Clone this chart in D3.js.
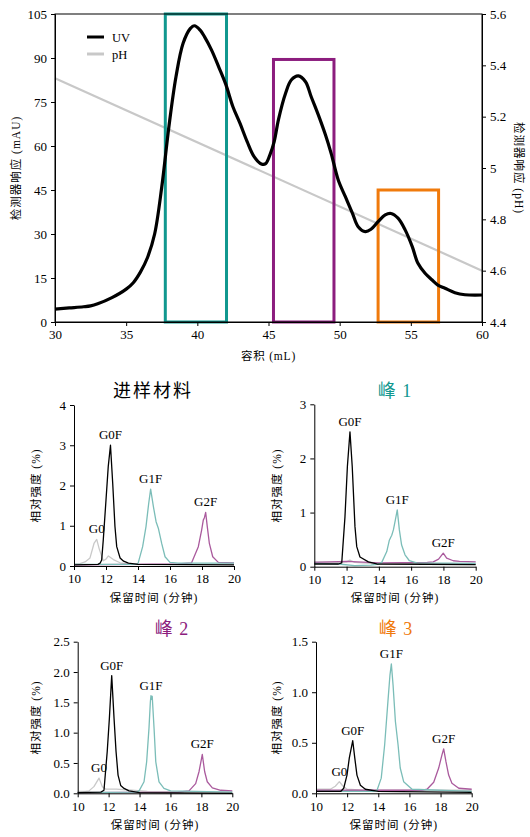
<!DOCTYPE html>
<html><head><meta charset="utf-8">
<script src="https://cdn.jsdelivr.net/npm/d3@7"></script>
<style>
body{margin:0;background:#fff;}
svg text{font-family:"Liberation Serif","Noto Sans CJK SC",serif;fill:#000;}
</style></head><body>
<svg id="c" width="530" height="837"></svg>
<script>
// ---------- DATA ----------
const uvVolume = [30,31,32,32.5,33,34,35,35.5,36,36.5,37,37.5,38,38.5,39,39.5,39.8,40.2,40.5,41,41.5,42,42.5,43,43.5,44,44.5,44.8,45.1,45.4,45.7,46.2,46.6,47.1,47.6,48,48.5,49,49.4,49.9,50.4,50.9,51.3,51.8,52.2,52.7,53.2,53.6,54.1,54.6,55.1,55.5,56,56.5,56.9,57.4,58.1,58.8,60];
const uvSignal = [4.4,4.8,5.2,5.5,6.2,8.3,11.2,13.4,17,22,30,46,66.5,83.6,95,100,101,99.5,97.3,92.7,87,81,73.4,67.7,61.5,56.3,53.9,54,57,61.5,69,78,82.5,83.9,81.9,76.8,70.6,63.8,57.5,48.4,42.7,37,32.5,30.8,31.6,34.2,36.5,37,35.4,31.4,25.7,20,16.6,14.3,12.6,11.5,10,9.3,9.2];
const phVolume = [30,60];
const phValues = [5.35,4.6];
const volumeTicks = [30,35,40,45,50,55,60];
const uvTicks = [0,15,30,45,60,75,90,105];
const phTicks = [4.4,4.6,4.8,5.0,5.2,5.4,5.6];
const fractionNames = ["峰 1","峰 2","峰 3"];
const fractionStart = [37.75,45.35,52.7];
const fractionEnd = [42.05,49.6,56.95];
const fractionTop = [105,89.5,45];
const legendNames = ["UV","pH"];

const panelTitles = ["进样材料","峰 1","峰 2","峰 3"];
const panelYMax = [4,3,2.5,1.5];
const panelYTicks = [[0,1,2,3,4],[0,1,2,3],[0,0.5,1,1.5,2,2.5],[0,0.5,1,1.5]];
const retentionTicks = [10,12,14,16,18,20];
const glycanNames = ["G0","G0F","G1F","G2F"];

const feedG0  = [[10,0.05],[10.37,0.06],[10.69,0.1],[11.0,0.2],[11.25,0.56],[11.42,0.66],[11.58,0.42],[11.83,0.13],[12.0,0.17],[12.15,0.25],[12.46,0.16],[12.88,0.08],[13.5,0.05],[14,0.04],[20,0.04]];
const feedG0F = [[10,0.03],[11.5,0.04],[11.63,0.07],[11.73,0.15],[11.83,0.65],[12.0,1.64],[12.14,2.47],[12.28,3.0],[12.42,2.05],[12.56,0.98],[12.67,0.48],[12.88,0.2],[13.1,0.12],[13.4,0.07],[14,0.04],[20,0.03]];
const feedG1F = [[10,0.04],[13.8,0.04],[14.0,0.06],[14.29,0.48],[14.5,0.98],[14.67,1.56],[14.79,1.91],[14.96,1.48],[15.13,1.1],[15.27,0.94],[15.48,0.56],[15.69,0.23],[16.0,0.09],[16.5,0.07],[20,0.07]];
const feedG2F = [[10,0.03],[16.5,0.05],[17.35,0.08],[17.77,0.48],[17.98,0.9],[18.08,1.14],[18.15,1.2],[18.23,1.33],[18.33,0.98],[18.46,0.56],[18.67,0.23],[19.02,0.09],[20,0.08]];

const peak1G0  = [[10,0.09],[11.5,0.08],[12.0,0.09],[12.2,0.12],[12.5,0.08],[13.5,0.06],[20,0.05]];
const peak1G0F = [[10,0.05],[11.5,0.05],[11.7,0.07],[11.9,0.92],[12.05,1.85],[12.21,2.49],[12.35,1.85],[12.52,0.74],[12.63,0.37],[12.83,0.18],[13.35,0.09],[13.87,0.05],[20,0.04]];
const peak1G1F = [[10,0.06],[11.5,0.05],[12.5,0.02],[13.5,0.03],[14.0,0.05],[14.18,0.08],[14.49,0.28],[14.65,0.49],[14.73,0.54],[14.8,0.58],[14.9,0.68],[15.02,0.86],[15.14,1.05],[15.27,0.68],[15.41,0.4],[15.62,0.22],[15.89,0.11],[16.34,0.07],[20,0.06]];
const peak1G2F = [[10,0.08],[12,0.1],[14,0.07],[17.0,0.08],[17.37,0.09],[17.7,0.14],[17.99,0.25],[18.2,0.16],[18.61,0.11],[19,0.1],[20,0.09]];

const peak2G0  = [[10,0.03],[10.5,0.03],[10.73,0.04],[11.05,0.11],[11.38,0.25],[11.59,0.11],[11.8,0.07],[12.5,0.07],[13.5,0.05],[14.5,0.03],[20,0.02]];
const peak2G0F = [[10,0.01],[11.5,0.02],[11.7,0.05],[11.91,0.69],[12.05,1.24],[12.2,1.94],[12.35,1.24],[12.48,0.69],[12.61,0.3],[12.78,0.13],[13.0,0.08],[13.32,0.04],[14,0.01],[20,0.0]];
const peak2G1F = [[10,0.01],[13.8,0.02],[13.97,0.04],[14.29,0.19],[14.46,0.52],[14.61,1.07],[14.7,1.51],[14.74,1.61],[14.78,1.55],[14.82,1.6],[14.94,1.07],[15.05,0.52],[15.26,0.19],[15.58,0.08],[16.01,0.04],[20,0.02]];
const peak2G2F = [[10,0.01],[16.5,0.02],[17.2,0.04],[17.63,0.16],[17.85,0.36],[18.06,0.64],[18.21,0.36],[18.38,0.19],[18.71,0.09],[19.25,0.05],[20,0.04]];

const peak3G0  = [[10,0.04],[10.92,0.04],[11.24,0.07],[11.5,0.115],[11.71,0.075],[11.99,0.04],[13,0.03],[20,0.03]];
const peak3G0F = [[10,0.02],[11.6,0.02],[11.78,0.05],[11.99,0.18],[12.14,0.35],[12.36,0.52],[12.49,0.35],[12.63,0.18],[12.85,0.08],[13.17,0.04],[14,0.02],[20,0.01]];
const peak3G1F = [[10,0.02],[13.7,0.02],[13.92,0.03],[14.19,0.15],[14.41,0.48],[14.62,0.91],[14.75,1.17],[14.84,1.28],[14.95,1.07],[15.1,0.71],[15.27,0.48],[15.41,0.25],[15.63,0.115],[16.17,0.04],[20,0.02]];
const peak3G2F = [[10,0.03],[16.8,0.03],[17.13,0.04],[17.56,0.11],[17.88,0.25],[18.09,0.38],[18.2,0.44],[18.35,0.31],[18.52,0.18],[18.73,0.1],[19.17,0.05],[20,0.04]];

const panelTraces = [
  [feedG0, feedG0F, feedG1F, feedG2F],
  [peak1G0, peak1G0F, peak1G1F, peak1G2F],
  [peak2G0, peak2G0F, peak2G1F, peak2G2F],
  [peak3G0, peak3G0F, peak3G1F, peak3G2F]
];
const panelLabels = [
  ["G0","G0F","G1F","G2F"],
  ["","G0F","G1F","G2F"],
  ["G0","G0F","G1F","G2F"],
  ["G0","G0F","G1F","G2F"]
];

// ---------- STYLE / LAYOUT ----------
const FONT = '"Liberation Serif","Noto Sans CJK SC",serif';
const fractionColors = ["#11988f","#8c1d7e","#f07a0c"];
const glycanColors = ["#c9c9c9","#000000","#7bbdb8","#aa5a9d"];
const svg = d3.select("#c");

function styleAxis(g, size){
  g.attr("font-family", FONT).attr("font-size", size);
  g.selectAll(".tick line").attr("stroke","#000");
  g.select(".domain").attr("stroke","#000");
  g.selectAll("text").attr("fill","#000");
}

// ---------- TOP CHART ----------
const T = {l:55, r:482, t:14, b:322};
const x = d3.scaleLinear().domain([30,60]).range([T.l,T.r]);
const y = d3.scaleLinear().domain([0,105]).range([T.b,T.t]);
const y2 = d3.scaleLinear().domain([4.4,5.6]).range([T.b,T.t]);

const topG = svg.append("g");
topG.append("path")
  .datum(phVolume.map((v,i)=>[v,phValues[i]]))
  .attr("fill","none").attr("stroke","#c8c8c8").attr("stroke-width",2.2)
  .attr("d", d3.line().x(d=>x(d[0])).y(d=>y2(d[1])));
fractionStart.forEach((s,i)=>{
  topG.append("rect")
    .attr("x", x(s)).attr("y", y(fractionTop[i]))
    .attr("width", x(fractionEnd[i])-x(s)).attr("height", y(0)-y(fractionTop[i]))
    .attr("fill","none").attr("stroke",fractionColors[i]).attr("stroke-width",3);
});
topG.append("path")
  .datum(uvVolume.map((v,i)=>[v,uvSignal[i]]))
  .attr("fill","none").attr("stroke","#000").attr("stroke-width",3.2)
  .attr("stroke-linejoin","round")
  .attr("d", d3.line().curve(d3.curveCatmullRom.alpha(0.5)).x(d=>x(d[0])).y(d=>y(d[1])));
topG.append("rect").attr("x",T.l).attr("y",T.t).attr("width",T.r-T.l).attr("height",T.b-T.t)
  .attr("fill","none").attr("stroke","#000").attr("stroke-width",1);
topG.append("g").attr("transform",`translate(0,${T.b})`)
  .call(d3.axisBottom(x).tickValues(volumeTicks).tickSize(4).tickPadding(4))
  .call(g=>styleAxis(g,13));
topG.append("g").attr("transform",`translate(${T.l},0)`)
  .call(d3.axisLeft(y).tickValues(uvTicks).tickSize(4).tickPadding(4))
  .call(g=>styleAxis(g,13));
topG.append("g").attr("transform",`translate(${T.r},0)`)
  .call(d3.axisRight(y2).tickValues(phTicks).tickSize(4).tickPadding(4)
    .tickFormat(d=>Math.abs(d-5)<1e-9 ? "5" : d3.format(".1f")(d)))
  .call(g=>styleAxis(g,13));
topG.append("text").attr("x",(T.l+T.r)/2).attr("y",360).attr("text-anchor","middle")
  .attr("font-size",11.5).attr("letter-spacing",0.8).text("容积 (mL)");
topG.append("text").attr("transform",`translate(20,${(T.t+T.b)/2}) rotate(-90)`)
  .attr("text-anchor","middle").attr("font-size",11.5).attr("letter-spacing",1).text("检测器响应 (mAU)");
topG.append("text").attr("transform",`translate(515,${(T.t+T.b)/2}) rotate(90)`)
  .attr("text-anchor","middle").attr("font-size",11.5).attr("letter-spacing",1).text("检测器响应 (pH)");
const legColors = ["#000","#c8c8c8"];
legendNames.forEach((n,i)=>{
  const ly = 37 + i*17;
  topG.append("line").attr("x1",87).attr("x2",104).attr("y1",ly).attr("y2",ly)
    .attr("stroke",legColors[i]).attr("stroke-width",3);
  topG.append("text").attr("x",112).attr("y",ly+4.5).attr("font-size",12.5).text(n);
});

// ---------- SMALL PANELS ----------
const panels = [
  {l:74, r:234, t:405, b:566, ylx:40, xly:602, tx:153, ty:397, tc:"#000", fmt:"d", ls:2},
  {l:314.3, r:475.7, t:404.3, b:566.7, ylx:281, xly:602, tx:395, ty:397, tc:fractionColors[0], fmt:"d", ls:1},
  {l:77.7, r:232.3, t:641.7, b:793.3, ylx:40, xly:829, tx:172, ty:635, tc:fractionColors[1], fmt:".1f", ls:1},
  {l:316, r:471.7, t:641.7, b:793.3, ylx:281, xly:829, tx:396, ty:635, tc:fractionColors[2], fmt:".1f", ls:1}
];

panels.forEach((P,pi)=>{
  const g = svg.append("g");
  const px = d3.scaleLinear().domain([10,20]).range([P.l,P.r]);
  const py = d3.scaleLinear().domain([0,panelYMax[pi]]).range([P.b,P.t]);
  const line = d3.line().x(d=>px(d[0])).y(d=>py(d[1]));
  const order = [0,3,2,1];
  order.forEach(k=>{
    g.append("path").datum(panelTraces[pi][k])
      .attr("fill","none").attr("stroke",glycanColors[k]).attr("stroke-width",1.3)
      .attr("stroke-linejoin","round").attr("d",line);
  });
  panelTraces[pi].forEach((tr,k)=>{
    const lab = panelLabels[pi][k];
    if(!lab) return;
    const m = tr.reduce((a,b)=>b[1]>a[1]?b:a);
    g.append("text").attr("x",px(m[0])).attr("y",py(m[1])-6)
      .attr("text-anchor","middle").attr("font-size",13).text(lab);
  });
  g.append("g").attr("transform",`translate(0,${P.b})`)
    .call(d3.axisBottom(px).tickValues(retentionTicks).tickSize(4).tickPadding(4).tickSizeOuter(0))
    .call(a=>styleAxis(a,13));
  g.append("g").attr("transform",`translate(${P.l},0)`)
    .call(d3.axisLeft(py).tickValues(panelYTicks[pi]).tickSize(4).tickPadding(4).tickSizeOuter(0)
      .tickFormat(d3.format(P.fmt)))
    .call(a=>styleAxis(a,13));
  g.append("text").attr("x",P.tx).attr("y",P.ty).attr("text-anchor","middle")
    .attr("font-size",18).attr("letter-spacing",P.ls).style("fill",P.tc).text(panelTitles[pi]);
  g.append("text").attr("x",(P.l+P.r)/2).attr("y",P.xly).attr("text-anchor","middle")
    .attr("font-size",11.5).attr("letter-spacing",1).text("保留时间 (分钟)");
  g.append("text").attr("transform",`translate(${P.ylx},${(P.t+P.b)/2}) rotate(-90)`)
    .attr("text-anchor","middle").attr("font-size",11.5).attr("letter-spacing",1).text("相对强度 (%)");
});
</script>
</body></html>
